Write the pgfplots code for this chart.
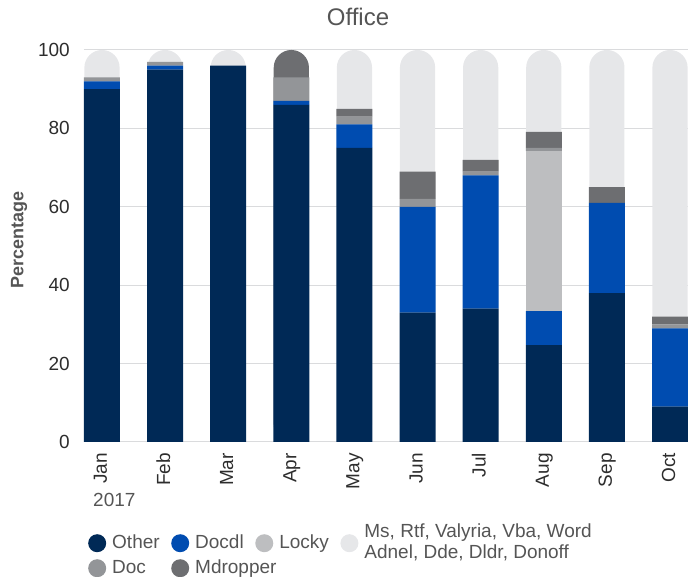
\documentclass[border=0pt]{standalone}
\usepackage{fontspec}
\setmainfont{Liberation Sans}
\usepackage{pgfplots}
\usepackage{pgfplotstable}
\pgfplotsset{compat=1.18}

\definecolor{cOther}{RGB}{0,41,86}
\definecolor{cDocdl}{RGB}{0,76,176}
\definecolor{cLocky}{RGB}{189,190,192}
\definecolor{cMs}{RGB}{230,231,233}
\definecolor{cDoc}{RGB}{147,149,152}
\definecolor{cMdrop}{RGB}{109,110,113}
\definecolor{gridc}{RGB}{218,219,221}
\definecolor{tickc}{RGB}{45,45,45}
\definecolor{legc}{RGB}{85,85,85}

% Mdropper for Apr sits at the very top of its bar, so it is kept in its own column (MdropTop)
\pgfplotstableread{
x Other Docdl Locky Doc Mdropper Ms MdropTop
0 90   2    0    1   0   7    0
1 95   1    0    1   0   3    0
2 96   0    0    0   0   4    0
3 86   1    0    6   0   0    7
4 75   6    0    2   2   15   0
5 33   27   0    2   7   31   0
6 34   34   0    1   3   28   0
7 24.7 8.7  40.8 0.8 4.1 20.9 0
8 38   23   0    0   4   35   0
9 9    20   0    1   2   68   0
}\datatable

\begin{document}
\begin{tikzpicture}
\useasboundingbox (-84pt,-135pt) rectangle (604pt,442pt);
% background: full bars with rounded tops (colour of each bar's top segment), grid, labels, legend
\begin{axis}[
  at={(0pt,0pt)}, anchor=south west,
  scale only axis, width=604pt, height=392pt,
  xmin=-0.2852, xmax=9.2852, ymin=0, ymax=100, enlargelimits=false,
  axis line style={draw=none}, major tick length=0pt,
  ymajorgrids, grid style={draw=gridc, line width=1pt},
  ytick={0,20,...,100},
  xtick={0,...,9}, xticklabels={Jan,Feb,Mar,Apr,May,Jun,Jul,Aug,Sep,Oct},
  /pgf/number format/assume math mode=true,
  yticklabel style={font=\fontsize{19}{22}\selectfont, text=tickc, anchor=east, inner sep=0pt, xshift=-14pt},
  xticklabel style={font=\fontsize{19}{22}\selectfont, text=tickc, inner sep=0pt, yshift=-11pt, rotate=90, anchor=east, text height=14pt, text depth=4pt},
  title=Office,
  title style={at={(axis description cs:0.4536,1)}, anchor=base, yshift=18pt, inner sep=0pt, font=\fontsize{24}{28}\selectfont, text=legc},
  ylabel=Percentage,
  ylabel style={at={(axis description cs:-0.1076,0.515)}, anchor=center, inner sep=0pt, font=\bfseries\fontsize{18}{21}\selectfont, text=legc},
  ybar, bar width=35.2pt,
  legend columns=4,
  legend cell align=left,
  legend image code/.code={\fill[#1] (0pt,0pt) circle (9pt);},
  legend style={at={(axis description cs:0.0066,-0.2309)}, anchor=north west, draw=none, fill=none, inner sep=0pt, row sep=4pt, column sep=0pt,
    font=\fontsize{19}{21}\selectfont,
    nodes={inner xsep=6pt, inner ysep=1.5pt, text height=14pt, text depth=4pt, text=legc},
    /tikz/every even column/.append style={column sep=5.5pt}},
]
\addlegendimage{fill=cOther, draw=none}
\addlegendentry{Other}
\addlegendimage{fill=cDocdl, draw=none}
\addlegendentry{Docdl}
\addlegendimage{fill=cLocky, draw=none}
\addlegendentry{Locky}
\addlegendimage{fill=cMs, draw=none}
\addlegendentry{\raisebox{-10pt}[0pt][0pt]{\vbox{\baselineskip=21pt\hbox{Ms, Rtf, Valyria, Vba, Word}\hbox{Adnel, Dde, Dldr, Donoff}}}}
\addlegendimage{fill=cDoc, draw=none}
\addlegendentry{Doc}
\addlegendimage{fill=cMdrop, draw=none}
\addlegendentry{\makebox[0pt][l]{Mdropper}}
\addplot[forget plot, fill=cMs, draw=none, bar shift=0pt, rounded corners=17.5pt]
  coordinates {(0,100) (1,100) (2,100) (4,100) (5,100) (6,100) (7,100) (8,100) (9,100)};
\addplot[forget plot, fill=cMdrop, draw=none, bar shift=0pt, rounded corners=17.5pt]
  coordinates {(3,100)};
\end{axis}
% front: stacked segments
\begin{axis}[
  at={(0pt,0pt)}, anchor=south west,
  scale only axis, width=604pt, height=392pt,
  xmin=-0.2852, xmax=9.2852, ymin=0, ymax=100, enlargelimits=false,
  hide axis, ybar stacked, bar width=36pt,
]
\addplot[fill=cOther, draw=none] table[x=x, y=Other] {\datatable};
\addplot[fill=cDocdl, draw=none] table[x=x, y=Docdl] {\datatable};
\addplot[fill=cLocky, draw=none] table[x=x, y=Locky] {\datatable};
\addplot[fill=cDoc, draw=none] table[x=x, y=Doc] {\datatable};
\addplot[fill=cMdrop, draw=none] table[x=x, y=Mdropper] {\datatable};
\addplot[fill=none, draw=none] table[x=x, y=Ms] {\datatable};
\addplot[fill=none, draw=none] table[x=x, y=MdropTop] {\datatable};
\end{axis}
\node[anchor=base west, inner sep=0pt, font=\fontsize{19}{22}\selectfont, text=legc] at (9pt,-65pt) {2017};
\end{tikzpicture}
\end{document}
